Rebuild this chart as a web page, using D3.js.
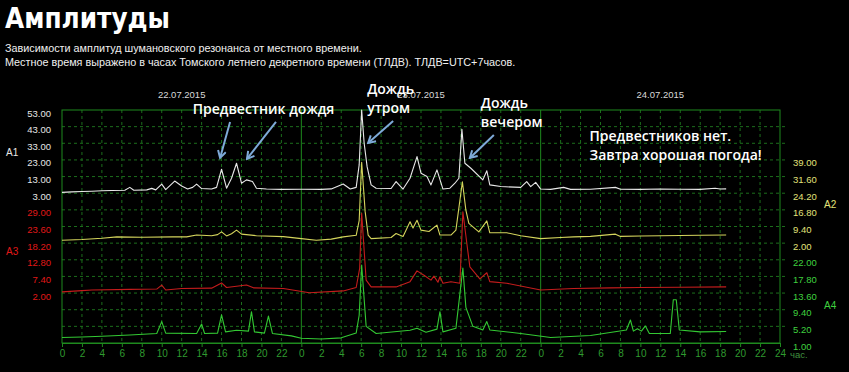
<!DOCTYPE html>
<html>
<head>
<meta charset="utf-8">
<script src="https://cdn.jsdelivr.net/npm/d3@7"></script>
<style>
  html, body { margin: 0; padding: 0; background: #000; }
  svg { display: block; }
</style>
</head>
<body>
<svg id="chart" width="849" height="372"></svg>
<script>
// hours on x axis (3 days), every 2 hours
var hourTicks = [0,2,4,6,8,10,12,14,16,18,20,22,24,26,28,30,32,34,36,38,40,42,44,46,48,50,52,54,56,58,60,62,64,66,68,70,72];
var dates = ["22.07.2015", "23.07.2015", "24.07.2015"];

// tick labels for each amplitude band
var a1Ticks = [53, 43, 33, 23, 13, 3];
var a2Ticks = [39, 31.6, 24.2, 16.8, 9.4, 2];
var a3Ticks = [29, 23.6, 18.2, 12.8, 7.4, 2];
var a4Ticks = [22, 17.8, 13.6, 9.4, 5.2, 1];

// [hour, amplitude]
var a1 = [[0,3.5],[1,3.8],[2,4.0],[3,4.2],[4,4.5],[5,4.6],[6.3,4.8],[6.8,6.5],[7.2,4.8],[8.5,5],[9,5.9],[9.4,5],[10,8.5],[10.4,5.2],[11.3,10.3],[12,7.3],[12.6,5.5],[13.1,6.5],[13.5,8.5],[14,5.8],[15,5.5],[15.5,6.5],[16,17.4],[16.5,6],[17,12],[17.5,21],[18,9],[18.5,11],[19.1,10],[19.5,6],[20.5,5.5],[22,5.3],[24,5.4],[26,5.3],[27,5.6],[28.2,8.5],[28.9,5.5],[29.5,6.5],[29.8,20],[30.05,53],[30.3,33],[30.6,18.8],[31,8],[31.5,6],[33,5.8],[33.5,10],[34.2,5.5],[34.9,12],[35.6,25],[36,15],[36.6,13],[37,8],[37.6,17],[38.2,5.5],[38.9,6],[39.4,9],[39.8,12],[40.1,41.4],[40.4,21],[41,18],[42.2,11],[42.6,16.5],[42.9,8],[44,7],[46,6.5],[46.6,10],[47,7],[47.5,9.5],[48,5.5],[49,5.3],[50.3,6.5],[51,5.3],[53,5.4],[55.5,6.5],[56,5.4],[58,5.3],[60,5.5],[62,5.4],[64,5.3],[65.5,6],[66,5.5],[66.6,5.6]];
var a2 = [[0,3.3],[2,3.6],[4,4.2],[5.5,4.8],[8,4.6],[11.1,4.8],[12.5,4.8],[13.5,5.6],[15,5.3],[15.6,5.8],[16,7],[16.5,5.2],[17,6.2],[17.5,7.8],[18,6],[19.5,5.3],[22.2,4.9],[24,4],[25.5,3.3],[27,3.8],[28.2,4.8],[29.5,5.5],[29.8,12],[30.05,38],[30.4,16],[30.7,5.6],[31,4],[33,4.5],[33.5,6.3],[34.2,5],[34.9,11.5],[35.2,8.7],[35.6,12.2],[36,7.8],[36.8,7.2],[37.6,10],[37.9,5.6],[39,5.6],[39.5,7.8],[40.15,29.3],[40.5,16.7],[40.8,10.8],[41.8,7],[42.6,11.9],[42.9,6.6],[44.6,6.6],[46,5.3],[48,4],[50,4.5],[51.3,4.8],[53,5],[55.5,6],[56,5],[58,5.2],[60,5.3],[62,5.4],[64,5.5],[66.6,5.6]];
var a3 = [[0,2.4],[2,2.8],[3,3.0],[6.8,3.2],[9.5,3.3],[10,4.6],[10.4,3],[12,3.5],[15,3.6],[16,5.3],[16.5,3.8],[18.5,4.6],[19.2,3.7],[22.2,3.5],[24.8,2.1],[28.2,2.7],[29.5,3.8],[29.85,10],[30.05,27.9],[30.5,6.2],[31,4],[33.5,4],[34.9,5.7],[35.6,9.2],[36.3,7.8],[37,6.2],[37.3,7.5],[37.7,5.5],[37.9,7.3],[38.2,5.2],[39,5.7],[39.9,5.2],[40.2,28.4],[40.6,18],[40.9,10.5],[41.9,6.6],[42.6,8.6],[42.9,5.7],[44.6,5.2],[48,3],[51.3,3.5],[55,3.7],[58,3.8],[62,3.9],[66.6,4]];
var a4 = [[0,2.4],[2,2.5],[4,2.7],[6.8,3],[9.5,3.4],[10,6.4],[10.4,3.5],[13.5,3.4],[14,5.8],[14.3,3.4],[15.6,3.5],[16,8.1],[16.4,3.8],[17.5,4.2],[18.7,4],[19,8.9],[19.3,3.8],[20.3,3.5],[20.7,7.8],[21.1,3.4],[23,2.8],[24,2.2],[26,2.0],[28,2.3],[29.5,3.5],[29.8,8],[30.05,20.7],[30.5,5.2],[31.5,3.4],[34.9,4.2],[35.6,4.7],[36.5,3.7],[37.6,4.5],[37.9,8.9],[38.2,3.8],[39.5,4.7],[40.2,19.9],[40.5,10],[41.2,5.2],[42.2,4.3],[42.6,6.4],[42.9,4.3],[46,3.4],[49,2.4],[53,2.9],[56.6,4.3],[57,6.8],[57.3,4],[57.7,4.6],[58.1,4],[58.5,5.3],[58.9,3.4],[61,3.4],[61.3,11.9],[61.6,11.9],[61.9,4.3],[64,3.8],[66.6,3.9]];

var svg = d3.select("#chart");
var plotL = 62, plotR = 780, plotT = 110, plotB = 343;
var rowH = (plotB - plotT) / 14;

var x = d3.scaleLinear().domain([0, 72]).range([plotL, plotR]);
var yA1 = d3.scaleLinear().domain([3, 53]).range([plotT + 5 * rowH, plotT]);
var yA2 = d3.scaleLinear().domain([2, 39]).range([plotT + 8 * rowH, plotT + 3 * rowH]);
var yA3 = d3.scaleLinear().domain([2, 29]).range([plotT + 11 * rowH, plotT + 6 * rowH]);
var yA4 = d3.scaleLinear().domain([1, 22]).range([plotB, plotT + 9 * rowH]);

var labelFont = "Liberation Sans, Arial, sans-serif";

// title and subtitle
svg.append("text").attr("x", 5).attr("y", 28).attr("fill", "#fff")
    .attr("font-family", "DejaVu Sans, Verdana, sans-serif").attr("font-weight", "bold").attr("font-size", 28)
    .attr("textLength", 165).attr("lengthAdjust", "spacingAndGlyphs")
    .text("Амплитуды");
svg.append("text").attr("x", 5).attr("y", 52).attr("fill", "#f0f0f0")
    .attr("font-family", labelFont).attr("font-size", 10.8)
    .text("Зависимости амплитуд шумановского резонанса от местного времени.");
svg.append("text").attr("x", 5).attr("y", 66).attr("fill", "#f0f0f0")
    .attr("font-family", labelFont).attr("font-size", 10.8)
    .text("Местное время выражено в часах Томского летнего декретного времени (ТЛДВ). ТЛДВ=UTC+7часов.");

// grid
var grid = svg.append("g");
for (var r = 1; r < 14; r++) {
    grid.append("line").attr("x1", plotL).attr("x2", plotR + 5)
        .attr("y1", plotT + r * rowH).attr("y2", plotT + r * rowH)
        .attr("stroke", "#1c6e1c").attr("stroke-dasharray", "3,3");
}
hourTicks.forEach(function(h) {
    var solid = h % 24 === 0;
    if (h === 0 || h === 72) return;
    grid.append("line").attr("x1", x(h)).attr("x2", x(h)).attr("y1", plotT).attr("y2", plotB)
        .attr("stroke", solid ? "#1e8a1e" : "#1c6e1c")
        .attr("stroke-dasharray", solid ? null : "3,3");
});
grid.append("rect").attr("x", plotL).attr("y", plotT).attr("width", plotR - plotL).attr("height", plotB - plotT)
    .attr("fill", "none").attr("stroke", "#1e8a1e");

// x axis
var xAxis = svg.append("g").attr("transform", "translate(0," + plotB + ")")
    .call(d3.axisBottom(x).tickValues(hourTicks).tickSize(4).tickPadding(3)
        .tickFormat(function(d) { return d === 72 ? 24 : d % 24; }));
xAxis.select(".domain").attr("stroke", "#1e8a1e");
xAxis.selectAll(".tick line").attr("stroke", "#1e8a1e");
xAxis.selectAll("text").attr("fill", "#2f9a2f").attr("font-family", labelFont).attr("font-size", 10);
svg.append("text").attr("x", x(72) + 10).attr("y", plotB + 15).attr("fill", "#3f8f3f")
    .attr("font-family", labelFont).attr("font-size", 9.5).text("час.");

// dates at noon of each day
svg.selectAll(".date").data(dates).enter().append("text")
    .attr("x", function(d, i) { return x(12 + 24 * i); }).attr("y", 98)
    .attr("text-anchor", "middle").attr("fill", "#d8d8d8")
    .attr("font-family", labelFont).attr("font-size", 9.5).text(function(d) { return d; });

// y axes
function bandAxis(scale, ticks, side, color) {
    var ax = side === "left" ? d3.axisLeft(scale) : d3.axisRight(scale);
    var g = svg.append("g")
        .attr("transform", "translate(" + (side === "left" ? plotL - 11 : plotR + 13) + ",3)")
        .call(ax.tickValues(ticks).tickSize(0).tickPadding(0).tickFormat(d3.format(".2f")));
    g.select(".domain").remove();
    g.selectAll("text").attr("fill", color).attr("font-family", labelFont).attr("font-size", 9.5);
}
bandAxis(yA1, a1Ticks, "left", "#e6e6e6");
bandAxis(yA3, a3Ticks, "left", "#e01818");
bandAxis(yA2, a2Ticks, "right", "#e2e27a");
bandAxis(yA4, a4Ticks, "right", "#3fd03f");

var names = [
    { t: "A1", x: 6, y: yA1(28), c: "#e6e6e6" },
    { t: "A3", x: 6, y: yA3(15.5), c: "#e01818" },
    { t: "A2", x: 824, y: yA2(19.5), c: "#e2e27a" },
    { t: "A4", x: 824, y: yA4(10.5), c: "#3fd03f" }
];
svg.selectAll(".name").data(names).enter().append("text")
    .attr("x", function(d) { return d.x; }).attr("y", function(d) { return d.y + 4; })
    .attr("fill", function(d) { return d.c; }).attr("font-family", labelFont).attr("font-size", 10)
    .text(function(d) { return d.t; });

// traces
function trace(data, scale, color, w) {
    svg.append("path").datum(data)
        .attr("d", d3.line().x(function(d) { return x(d[0]); }).y(function(d) { return scale(d[1]); }))
        .attr("fill", "none").attr("stroke", color).attr("stroke-width", w).attr("stroke-linejoin", "round");
}
trace(a4, yA4, "#33c833", 1.1);
trace(a3, yA3, "#c41c1c", 1.1);
trace(a2, yA2, "#d4d45c", 1.1);
trace(a1, yA1, "#e8e8e8", 1.1);

// annotations
var noteFont = "Open Sans, Noto Sans, sans-serif";
var notes = [
    { lines: ["Предвестник дождя"], h: 13.1, y: 114 },
    { lines: ["Дождь", "утром"], h: 30.6, y: 94 },
    { lines: ["Дождь", "вечером"], h: 42.0, y: 108 },
    { lines: ["Предвестников нет.", "Завтра хорошая погода!"], h: 52.9, y: 141 }
];
notes.forEach(function(n) {
    var t = svg.append("text").attr("fill", "#fff").attr("font-family", noteFont)
        .attr("font-weight", 600).attr("font-size", 14);
    n.lines.forEach(function(l, i) {
        t.append("tspan").attr("x", x(n.h)).attr("y", n.y + i * 19).text(l);
    });
});

svg.append("defs").append("marker").attr("id", "head")
    .attr("viewBox", "0 0 10 10").attr("refX", 8).attr("refY", 5)
    .attr("markerWidth", 5).attr("markerHeight", 5).attr("orient", "auto")
    .append("path").attr("d", "M1,1 L8,5 L1,9").attr("fill", "none")
    .attr("stroke", "#7eaad8").attr("stroke-width", 2);

// arrow heads sit on the A1 band, tails offset in px
var arrows = [
    { h: 15.85, v: 24.2, dx: 10, dy: -36 },
    { h: 18.55, v: 23.6, dx: 29, dy: -37 },
    { h: 30.7, v: 33.2, dx: 25, dy: -22 },
    { h: 40.9, v: 24.2, dx: 24, dy: -23 }
];
svg.selectAll(".arrow").data(arrows).enter().append("line")
    .attr("x1", function(d) { return x(d.h) + d.dx; }).attr("y1", function(d) { return yA1(d.v) + d.dy; })
    .attr("x2", function(d) { return x(d.h); }).attr("y2", function(d) { return yA1(d.v); })
    .attr("stroke", "#7eaad8").attr("stroke-width", 2).attr("marker-end", "url(#head)");
</script>
</body>
</html>
